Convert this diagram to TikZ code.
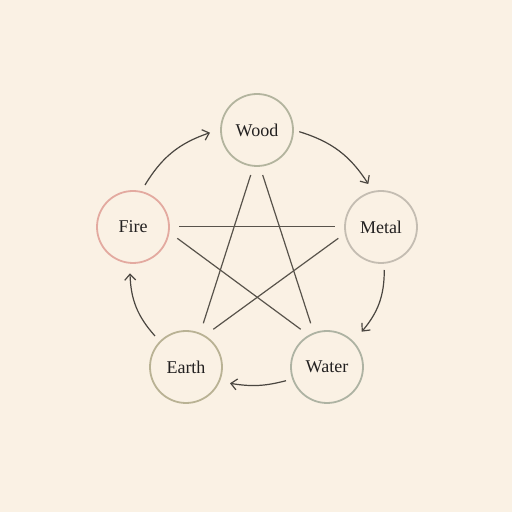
\documentclass[tikz,border=0pt]{standalone}
\usepackage{fontspec}
\setmainfont{Liberation Serif}
\usetikzlibrary{calc,arrows.meta}
\definecolor{bgc}{HTML}{FAF1E4}
\definecolor{woodc}{HTML}{B3B49E}
\definecolor{metalc}{HTML}{C4BDB2}
\definecolor{firec}{HTML}{E3AAA0}
\definecolor{earthc}{HTML}{B9B294}
\definecolor{waterc}{HTML}{AEB3A3}
\definecolor{starc}{HTML}{58534B}
\definecolor{arrc}{HTML}{4A4640}
\definecolor{txtc}{HTML}{222020}
\tikzset{
  elem/.style={circle, minimum size=72pt, inner sep=0pt, line width=1.8pt, text=txtc, font=\fontsize{18}{21}\selectfont},
  starline/.style={draw=starc, line width=1.2pt},
  cyc/.style={draw=arrc, line width=1.2pt, -{Straight Barb[length=6pt,width=11pt,line width=1.2pt]}}
}
\begin{document}
\begin{tikzpicture}[x=1pt,y=1pt]
\fill[bgc] (0,0) rectangle (512,512);
\useasboundingbox (0,0) rectangle (512,512);
\node[elem, draw=woodc] (wood) at (257,382) {Wood};
\node[elem, draw=metalc] (metal) at (381,285) {Metal};
\node[elem, draw=firec] (fire) at (133,285) {Fire};
\node[elem, draw=earthc] (earth) at (186,145) {Earth};
\node[elem, draw=waterc] (water) at (327,145) {Water};
% star endpoints
\coordinate (we1) at ($(wood)+(-6.3,-45)$);
\coordinate (we2) at ($(earth)+(17.3,43.7)$);
\coordinate (ww1) at ($(wood)+(5.7,-45)$);
\coordinate (ww2) at ($(water)+(-16.3,43.7)$);
\coordinate (fm1) at ($(fire)+(46.3,0.5)$);
\coordinate (fm2) at ($(metal)+(-46,0.5)$);
\coordinate (fw1) at ($(fire)+(44.3,-11.3)$);
\coordinate (fw2) at ($(water)+(-26.3,37.7)$);
\coordinate (me1) at ($(metal)+(-42.7,-11.3)$);
\coordinate (me2) at ($(earth)+(27.3,37.7)$);
\draw[starline] (we1) -- (we2);
\draw[starline] (ww1) -- (ww2);
\draw[starline] (fm1) -- (fm2);
\draw[starline] (fw1) -- (fw2);
\draw[starline] (me1) -- (me2);
% cycle endpoints
\coordinate (fa) at ($(fire)+(12,42)$);
\coordinate (wb) at ($(wood)+(-47,-2.7)$);
\coordinate (wa) at ($(wood)+(42.3,-1.7)$);
\coordinate (mb) at ($(metal)+(-12.7,43)$);
\coordinate (ma) at ($(metal)+(3.3,-43)$);
\coordinate (tb) at ($(water)+(34.7,35.3)$);
\coordinate (ta) at ($(water)+(-41,-13.7)$);
\coordinate (eb) at ($(earth)+(44,-16.3)$);
\coordinate (ea) at ($(earth)+(-31,31)$);
\coordinate (fb) at ($(fire)+(-3,-46.3)$);
\draw[cyc] (fa) to[bend left=20] (wb);
\draw[cyc] (wa) to[bend left=20] (mb);
\draw[cyc] (ma) to[bend left=20] (tb);
\draw[cyc] (ta) to[bend left=12] (eb);
\draw[cyc] (ea) to[bend left=20] (fb);
\end{tikzpicture}
\end{document}
